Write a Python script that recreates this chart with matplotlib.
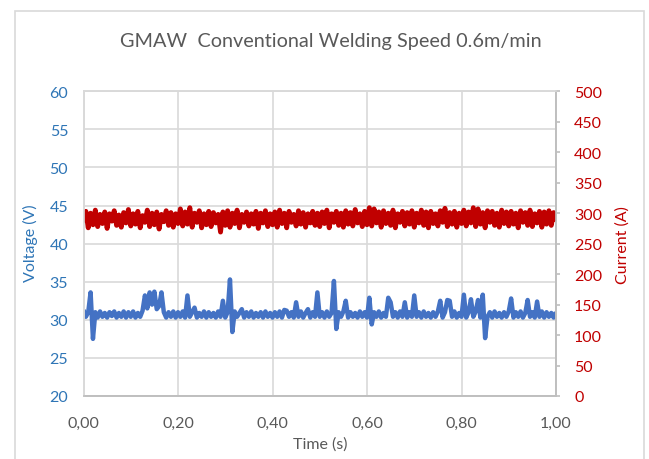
import numpy as np
import matplotlib.pyplot as plt
from matplotlib.patches import Rectangle
from matplotlib.ticker import FuncFormatter

plt.rcParams['font.family'] = ['Lato', 'DejaVu Sans']

# =========================
# data (one sample every 0.005 s)
# =========================
time_s = np.linspace(0, 1.0, 201)

voltage = [
    31.3, 30.4, 31.0, 33.6, 27.5, 31.0, 30.3, 31.1, 30.4, 30.9, 30.3, 31.0, 30.5, 31.1, 30.3, 30.9, 30.4, 31.1, 30.3, 31.0,
    30.4, 31.1, 30.3, 30.9, 30.4, 31.2, 33.2, 31.5, 33.6, 32.0, 33.7, 31.4, 31.8, 33.6, 31.0, 30.3, 31.0, 30.4, 31.1, 30.3,
    31.0, 30.4, 31.1, 30.3, 33.2, 30.4, 31.0, 31.6, 30.3, 30.9, 30.4, 31.1, 30.3, 31.0, 30.4, 30.9, 30.3, 31.1, 30.4, 32.5,
    30.3, 31.0, 35.3, 28.4, 31.1, 30.4, 30.9, 31.4, 30.3, 31.0, 30.4, 31.1, 30.3, 30.9, 30.4, 31.0, 30.3, 31.1, 30.4, 30.9,
    30.3, 31.0, 30.4, 31.1, 30.3, 31.3, 31.2, 30.4, 31.0, 30.3, 32.3, 30.4, 31.1, 30.3, 30.9, 31.4, 30.3, 31.0, 30.4, 33.6,
    30.4, 31.0, 30.3, 31.1, 30.4, 30.9, 35.1, 28.8, 31.0, 30.4, 31.1, 32.5, 30.3, 31.0, 30.4, 30.9, 30.3, 31.1, 30.4, 31.0,
    30.3, 32.9, 29.4, 31.0, 30.4, 31.1, 30.3, 30.9, 30.4, 32.9, 32.3, 30.4, 31.0, 30.3, 31.1, 30.4, 32.3, 30.3, 31.0, 30.4,
    33.2, 30.4, 31.0, 30.3, 31.1, 30.4, 30.9, 30.3, 31.0, 30.4, 31.1, 32.5, 30.3, 31.0, 32.6, 32.5, 30.4, 31.1, 30.3, 30.9,
    30.4, 33.3, 30.3, 31.0, 32.7, 30.4, 31.1, 32.6, 30.3, 33.3, 27.6, 30.4, 31.0, 30.3, 31.1, 30.4, 30.9, 30.3, 31.0, 30.4,
    31.1, 32.8, 30.3, 31.0, 30.4, 31.1, 30.3, 30.9, 32.6, 30.4, 31.0, 30.3, 32.4, 30.4, 31.1, 30.3, 31.0, 30.4, 30.9, 30.3,
    31.0,
]

current = [
    285, 303, 276, 300, 281, 305, 278, 298, 283, 302, 275, 299, 287, 304, 280, 297, 277, 301, 284, 306,
    279, 299, 282, 303, 276, 296, 285, 305, 278, 300, 281, 302, 274, 298, 286, 304, 280, 301, 277, 299,
    283, 307, 279, 302, 282, 309, 277, 300, 285, 304, 276, 299, 281, 303, 278, 301, 284, 298, 269, 302,
    280, 304, 277, 300, 283, 305, 276, 298, 285, 302, 279, 299, 282, 303, 275, 300, 284, 304, 278, 299,
    281, 302, 277, 305, 283, 300, 276, 303, 285, 298, 279, 304, 282, 301, 277, 299, 284, 303, 280, 300,
    278, 302, 283, 305, 276, 299, 285, 303, 280, 300, 277, 304, 282, 301, 279, 306, 284, 299, 278, 303,
    281, 309, 279, 307, 284, 302, 277, 304, 283, 300, 280, 305, 276, 299, 285, 303, 279, 301, 282, 304,
    277, 300, 284, 305, 280, 302, 276, 303, 283, 299, 279, 304, 285, 308, 278, 301, 282, 303, 277, 300,
    283, 305, 279, 302, 284, 309, 278, 307, 282, 301, 276, 304, 285, 303, 280, 300, 277, 305, 283, 302,
    279, 303, 282, 300, 276, 304, 285, 301, 280, 305, 278, 299, 284, 303, 277, 302, 282, 304, 280, 301,
    287,
]

x_ticks = [0.0, 0.2, 0.4, 0.6, 0.8, 1.0]
v_ticks = [20, 25, 30, 35, 40, 45, 50, 55, 60]
a_ticks = [0, 50, 100, 150, 200, 250, 300, 350, 400, 450, 500]

blue = '#4472C4'
blue_txt = '#2E75B6'
red = '#C00000'
grey_txt = '#595959'
grid_c = '#D9D9D9'
axis_c = '#BFBFBF'

fig = plt.figure(figsize=(6.49, 4.60), dpi=100)
fig.patches.append(Rectangle((15 / 649, -0.1), 629 / 649, 1.1 - 12 / 460,
                             transform=fig.transFigure, fill=False,
                             edgecolor=grid_c, linewidth=1.2))

ax = fig.add_axes([83.5 / 649, 1 - 397 / 460, (556 - 83.5) / 649, (397 - 92.3) / 460])
ax2 = ax.twinx()

ax.plot(time_s, voltage, color=blue, linewidth=3.2,
        solid_joinstyle='round', solid_capstyle='butt')
ax2.plot(time_s, current, color=red, linewidth=3.5,
         solid_joinstyle='round', solid_capstyle='butt')

ax.set_xlim(0, 1.0)
ax.set_ylim(20, 60)
ax2.set_ylim(0, 500)
ax.set_xticks(x_ticks)
ax.set_yticks(v_ticks)
ax2.set_yticks(a_ticks)
ax.xaxis.set_major_formatter(FuncFormatter(lambda v, p: f'{v:.2f}'.replace('.', ',')))

ax.grid(True, color=grid_c, linewidth=1.2)
ax.set_axisbelow(True)

for a in (ax, ax2):
    for s in a.spines.values():
        s.set_color(axis_c)
        s.set_linewidth(1.2)
    a.spines['top'].set_color(grid_c)
    a.spines['left'].set_color(grid_c)

ax.tick_params(axis='x', length=0, pad=14, labelsize=11.5, labelcolor=grey_txt)
ax.tick_params(axis='y', length=0, pad=11, labelsize=11.5, labelcolor=blue_txt)
ax2.tick_params(axis='y', length=3, width=1.2, color=axis_c, pad=10,
                labelsize=11.5, labelcolor=red)

fig.text(331 / 649, 1 - 42 / 460, 'GMAW  Conventional Welding Speed 0.6m/min',
         ha='center', va='center', fontsize=14.3, color=grey_txt)
fig.text(30 / 649, 1 - 243 / 460, 'Voltage (V)', rotation=90,
         ha='center', va='center', fontsize=11.5, color=blue_txt)
fig.text(623 / 649, 1 - 245 / 460, 'Current (A)', rotation=90,
         ha='center', va='center', fontsize=11.5, color=red)
fig.text(320 / 649, 1 - 445 / 460, 'Time (s)',
         ha='center', va='center', fontsize=11.5, color=grey_txt)

plt.savefig('out.png', dpi=100)
